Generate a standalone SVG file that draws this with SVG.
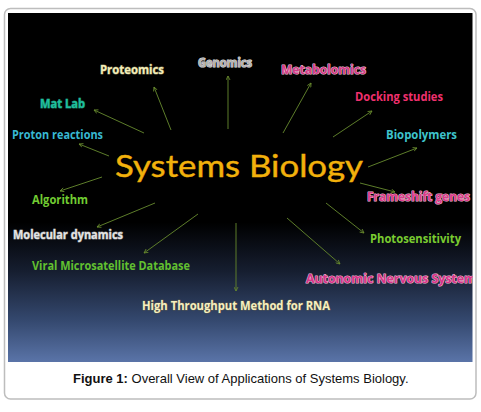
<svg xmlns="http://www.w3.org/2000/svg" width="481" height="412" viewBox="0 0 481 412">
<style>
.lbl{font-family:"Open Sans",Lato,"Liberation Sans",sans-serif;font-weight:700;font-size:12px}
.ol{stroke-width:1.1px;paint-order:stroke;stroke-linejoin:round}
.arr{stroke:#5d7d2a;stroke-width:1;fill:none;marker-end:url(#ah)}
.cap{font-family:"Liberation Sans",Arial,sans-serif;font-size:13px;fill:#111}
</style>
<defs>
<linearGradient id="bg" x1="0" y1="0" x2="0" y2="1">
<stop offset="0" stop-color="#000"/>
<stop offset="0.6" stop-color="#000"/>
<stop offset="0.74" stop-color="#161e30"/>
<stop offset="0.88" stop-color="#34486e"/>
<stop offset="1" stop-color="#5a74a8"/>
</linearGradient>
<clipPath id="pc"><rect x="8" y="13" width="464.5" height="349"/></clipPath>
<marker id="ah" viewBox="0 0 10 10" refX="9" refY="5" markerWidth="5" markerHeight="5" orient="auto" markerUnits="userSpaceOnUse">
<path d="M1,1 L9,5 L1,9" fill="none" stroke="#6a8c2e" stroke-width="1.6"/>
</marker>
</defs>
<rect x="0" y="0" width="481" height="412" fill="#fff"/>
<rect x="4.5" y="8.5" width="471.5" height="390.5" rx="6" fill="#fff" stroke="#bdbdbd" stroke-width="1.5"/>
<rect x="8" y="13" width="464.5" height="349" fill="url(#bg)"/>
<g id="connectors">
<line class="arr" x1="171" y1="130" x2="154" y2="87"/>
<line class="arr" x1="228" y1="129" x2="228" y2="76"/>
<line class="arr" x1="283" y1="133" x2="311" y2="83"/>
<line class="arr" x1="333" y1="137" x2="372" y2="111"/>
<line class="arr" x1="144" y1="133" x2="94" y2="110"/>
<line class="arr" x1="109" y1="156" x2="79" y2="144"/>
<line class="arr" x1="368" y1="167" x2="417" y2="148"/>
<line class="arr" x1="102" y1="177" x2="60" y2="191"/>
<line class="arr" x1="360" y1="183" x2="395" y2="192"/>
<line class="arr" x1="155" y1="203" x2="97" y2="227"/>
<line class="arr" x1="198" y1="214" x2="144" y2="253"/>
<line class="arr" x1="326" y1="203" x2="364" y2="233"/>
<line class="arr" x1="287" y1="218" x2="340" y2="264"/>
<line class="arr" x1="236" y1="223" x2="236" y2="291"/>
</g>
<g clip-path="url(#pc)">
<g id="center"><text x="115" y="177" font-family="Lato,'Open Sans','Liberation Sans',sans-serif" font-size="30.5" fill="#f2b10c" stroke="#f2b10c" stroke-width="0.4" textLength="248" lengthAdjust="spacingAndGlyphs">Systems Biology</text></g>
<g id="n-proteomics"><text class="lbl ol" x="100" y="74" fill="#f4edb8" stroke="#6e6a4c" textLength="64" lengthAdjust="spacingAndGlyphs">Proteomics</text></g>
<g id="n-genomics"><text class="lbl ol" x="198" y="67" fill="#b4b4b4" stroke="#e0e0e0" textLength="54" lengthAdjust="spacingAndGlyphs">Genomics</text></g>
<g id="n-metabolomics"><text class="lbl ol" x="281" y="74" fill="#d43c88" stroke="#eec4d8" textLength="85" lengthAdjust="spacingAndGlyphs">Metabolomics</text></g>
<g id="n-docking"><text class="lbl" x="355" y="101" fill="#f0306e" textLength="88" lengthAdjust="spacingAndGlyphs">Docking studies</text></g>
<g id="n-matlab"><text class="lbl ol" x="40" y="108" fill="#1ec09e" stroke="#1a6e5c" textLength="45" lengthAdjust="spacingAndGlyphs">Mat Lab</text></g>
<g id="n-proton"><text class="lbl" x="12" y="139" fill="#38b8d2" textLength="91" lengthAdjust="spacingAndGlyphs">Proton reactions</text></g>
<g id="n-biopolymers"><text class="lbl" x="386" y="139" fill="#3ec4cc" textLength="71" lengthAdjust="spacingAndGlyphs">Biopolymers</text></g>
<g id="n-algorithm"><text class="lbl" x="32" y="204" fill="#72cc32" textLength="56" lengthAdjust="spacingAndGlyphs">Algorithm</text></g>
<g id="n-frameshift"><text class="lbl ol" x="367" y="201" fill="#dc3c8a" stroke="#eebcd4" textLength="103" lengthAdjust="spacingAndGlyphs">Frameshift genes</text></g>
<g id="n-molecular"><text class="lbl ol" x="13" y="239" fill="#e4e4e4" stroke="#7a7a7a" textLength="110" lengthAdjust="spacingAndGlyphs">Molecular dynamics</text></g>
<g id="n-photo"><text class="lbl" x="370" y="243" fill="#7acc30" textLength="91" lengthAdjust="spacingAndGlyphs">Photosensitivity</text></g>
<g id="n-viral"><text class="lbl" x="32" y="270" fill="#62c030" textLength="158" lengthAdjust="spacingAndGlyphs">Viral Microsatellite Database</text></g>
<g id="n-autonomic"><text class="lbl ol" x="306" y="283" fill="#d8358a" stroke="#eebcd4" textLength="170" lengthAdjust="spacingAndGlyphs">Autonomic Nervous System</text></g>
<g id="n-highthroughput"><text class="lbl ol" x="142" y="310" fill="#f6efbf" stroke="#5a5a4e" textLength="188" lengthAdjust="spacingAndGlyphs">High Throughput Method for RNA</text></g>
</g>
<text class="cap" x="73" y="383"><tspan font-weight="700">Figure 1:</tspan> Overall View of Applications of Systems Biology.</text>
</svg>
